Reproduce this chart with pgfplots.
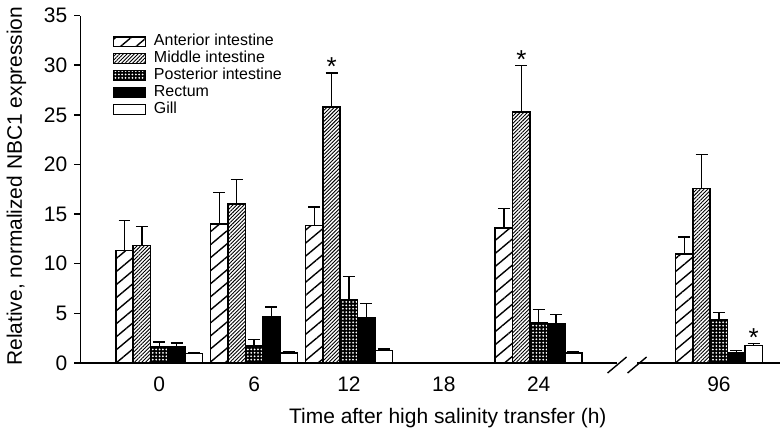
\documentclass[border=0pt]{standalone}
\usepackage{pgfplots}
\pgfplotsset{compat=1.18}
\usepackage{fontspec}
\setmainfont{Liberation Sans}
\usetikzlibrary{patterns.meta}

\begin{document}
\begin{tikzpicture}
\pgfplotsset{
  legpatch/.style={legend image code/.code={\draw[##1,line width=0.7pt] (0pt,-2.4pt) rectangle (16pt,2.4pt);}},
  barbase/.style={draw=black, line width=0.8pt, legpatch,
    error bars/y dir=plus, error bars/y explicit,
    error bars/error bar style={line width=0.7pt, black},
    error bars/error mark options={rotate=90, mark size=3pt, line width=0.7pt, black}},
  starmark/.style={forget plot, draw=none, fill=none, nodes near coords={*},
    every node near coord/.append style={font=\fontsize{13}{13}\selectfont, anchor=south, inner sep=1pt, yshift=-2.5pt}},
}
\begin{axis}[
  scale only axis, width=350.5pt, height=174pt,
  ybar, bar width=0.183,
  xmin=-0.8316, xmax=6.547, ymin=0, ymax=35,
  axis x line=bottom, axis y line=left,
  axis line style={-, line width=0.7pt},
  clip=false,
  xtick={0,1,2,3,4,5.9}, xticklabels={0,6,12,18,24,96},
  x tick style={draw=none},
  ytick={0,5,...,35},
  y tick style={line width=0.7pt, black},
  tick align=outside, major tick length=3pt,
  tick label style={font=\fontsize{10.5}{12}\selectfont},
  /pgf/number format/assume math mode=true,
  xticklabel style={yshift=-0.2pt},
  ylabel={Relative, normalized NBC1 expression},
  xlabel={Time after high salinity transfer (h)},
  label style={font=\fontsize{10.5}{12}\selectfont},
  ylabel style={at={(axis description cs:-0.0913,0.509)}, anchor=center},
  xlabel style={at={(axis description cs:0.525,-0.158)}, anchor=center},
  legend cell align=left,
  legend style={draw=none, fill=none, at={(0.037,0.962)}, anchor=north west,
    font=\fontsize{8}{9}\selectfont, row sep=0pt,
    nodes={inner sep=0.5pt, text height=5.8pt, text depth=1.7pt},
    /tikz/every odd column/.append style={column sep=3.5pt}},
]
\addplot[barbase, bar shift=-0.366, fill=white,
  postaction={pattern={Lines[angle=40, distance=5pt, line width=0.7pt]}, pattern color=black}]
  coordinates {(0,11.34) +- (0,3.0) (1,14.03) +- (0,3.12) (2,13.86) +- (0,1.85) (4,13.59) +- (0,1.95) (5.9,11.01) +- (0,1.68)};
\addlegendentry{Anterior intestine}
\addplot[barbase, bar shift=-0.183, fill=white,
  postaction={pattern={Lines[angle=45, distance=1.3pt, line width=0.45pt]}, pattern color=black}]
  coordinates {(0,11.85) +- (0,1.9) (1,16.04) +- (0,2.42) (2,25.77) +- (0,3.45) (4,25.27) +- (0,4.7) (5.9,17.56) +- (0,3.45)};
\addlegendentry{Middle intestine}
\addplot[barbase, bar shift=0, fill=black,
  postaction={pattern={Dots[distance=1.7pt, radius=0.5pt]}, pattern color=white}]
  coordinates {(0,1.61) +- (0,0.5) (1,1.71) +- (0,0.64) (2,6.38) +- (0,2.35) (4,4.03) +- (0,1.34) (5.9,4.4) +- (0,0.7)};
\addlegendentry{Posterior intestine}
\addplot[barbase, bar shift=0.183, fill=black]
  coordinates {(0,1.61) +- (0,0.4) (1,4.63) +- (0,1.0) (2,4.53) +- (0,1.45) (4,3.9) +- (0,0.97) (5.9,1.04) +- (0,0.24)};
\addlegendentry{Rectum}
\addplot[barbase, bar shift=0.366, fill=white]
  coordinates {(0,0.94) +- (0,0.1) (1,1.01) +- (0,0.08) (2,1.28) +- (0,0.13) (4,1.01) +- (0,0.17) (5.9,1.78) +- (0,0.17)};
\addlegendentry{Gill}
% significance marks, placed on top of the error bars
\addplot[starmark, bar shift=-0.183] coordinates {(2,29.22) (4,29.97)};
\addplot[starmark, bar shift=0.366] coordinates {(5.9,1.95)};
\coordinate (g1) at (axis cs:4.821,0);
\coordinate (g2) at (axis cs:5.032,0);
\coordinate (s1a) at (axis cs:4.726,-1.006);
\coordinate (s1b) at (axis cs:4.926,0.603);
\coordinate (s2a) at (axis cs:4.937,-1.006);
\coordinate (s2b) at (axis cs:5.137,0.603);
\end{axis}
% axis break
\fill[white] ([yshift=-0.6pt]g1) rectangle ([yshift=0.6pt]g2);
\draw[line width=0.7pt] (s1a) -- (s1b) (s2a) -- (s2b);
\path ([xshift=-40pt,yshift=-34pt]current axis.south west) rectangle ([yshift=7.5pt]current axis.north east);
\end{tikzpicture}
\end{document}
